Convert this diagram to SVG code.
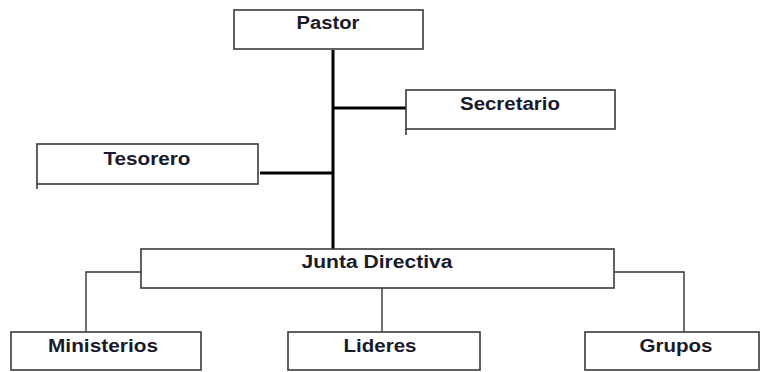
<svg xmlns="http://www.w3.org/2000/svg" width="764" height="372" viewBox="0 0 764 372">
<style>
.box{fill:#fff;stroke:#3a3a3a;stroke-width:1.6}
.t{font-family:"Liberation Sans",Arial,sans-serif;font-weight:bold;font-size:18px;fill:#1a1a2a;text-anchor:middle}
.thick{stroke:#000;stroke-width:3;fill:none}
.thin{stroke:#333;stroke-width:1.4;fill:none}
</style>
<rect width="764" height="372" fill="#fff"/>
<g id="connectors">
<line class="thick" x1="333" y1="50" x2="333" y2="249"/>
<line class="thick" x1="333" y1="108" x2="406" y2="108"/>
<line class="thick" x1="260" y1="173" x2="333" y2="173"/>
<polyline class="thin" points="141,272 86,272 86,332"/>
<line class="thin" x1="382" y1="288" x2="382" y2="332"/>
<polyline class="thin" points="614,272 684,272 684,332"/>
</g>
<g id="pastor"><rect class="box" x="234" y="10" width="189" height="39"/><text class="t" x="328" y="29" textLength="63" lengthAdjust="spacingAndGlyphs">Pastor</text></g>
<g id="secretario"><rect class="box" x="406" y="90" width="209" height="39"/><line class="box" x1="406" y1="129" x2="406" y2="135"/><text class="t" x="510" y="110" textLength="100" lengthAdjust="spacingAndGlyphs">Secretario</text></g>
<g id="tesorero"><rect class="box" x="37" y="144" width="221" height="40"/><line class="box" x1="37" y1="184" x2="37" y2="189"/><text class="t" x="147" y="165" textLength="87" lengthAdjust="spacingAndGlyphs">Tesorero</text></g>
<g id="junta"><rect class="box" x="141" y="249" width="473" height="39"/><text class="t" x="377" y="268" textLength="151" lengthAdjust="spacingAndGlyphs">Junta Directiva</text></g>
<g id="ministerios"><rect class="box" x="11" y="332" width="190" height="38"/><text class="t" x="103" y="352" textLength="110" lengthAdjust="spacingAndGlyphs">Ministerios</text></g>
<g id="lideres"><rect class="box" x="288" y="332" width="192" height="38"/><text class="t" x="380" y="352" textLength="73" lengthAdjust="spacingAndGlyphs">Lideres</text></g>
<g id="grupos"><rect class="box" x="585" y="332" width="174" height="38"/><text class="t" x="676" y="352" textLength="73" lengthAdjust="spacingAndGlyphs">Grupos</text></g>
</svg>
